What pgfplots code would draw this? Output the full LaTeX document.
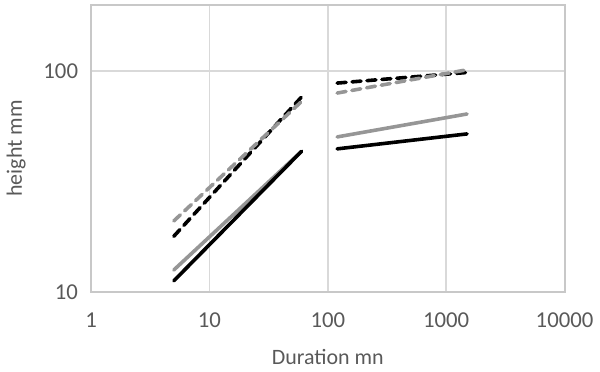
\documentclass[border=0pt]{standalone}
\usepackage{fontspec}
\setmainfont{Carlito}
\usepackage{pgfplots}
\pgfplotsset{compat=1.18}
\definecolor{txt}{HTML}{595959}
\definecolor{grd}{HTML}{D9D9D9}
\definecolor{frm}{HTML}{C8C8C8}
\definecolor{lgray}{HTML}{969696}
\begin{document}
\begin{tikzpicture}
\path (-45.65pt,-38pt) rectangle (254.35pt,146.5pt);
\begin{axis}[
    at={(0,0)}, anchor=south west,
    scale only axis,
    width=237.4pt, height=144.2pt,
    xmode=log, ymode=log,
    xmin=1, xmax=10000, ymin=10, ymax=200,
    xtick={1,10,100,1000,10000},
    xticklabels={1,10,100,1000,10000},
    ytick={10,100},
    yticklabels={10,100},
    xminorticks=false, yminorticks=false,
    major tick length=0pt, minor tick length=0pt,
    xmajorgrids, ymajorgrids,
    grid style={grd, line width=0.9pt},
    axis line style={frm, line width=1pt},
    tick label style={font=\fontsize{11.4}{13}\selectfont, text=txt},
    /pgf/number format/assume math mode=true,
    xticklabel style={yshift=-7pt},
    yticklabel style={xshift=-3pt},
    xlabel={Duration mn}, ylabel={height mm},
    label style={font=\fontsize{11}{13}\selectfont, text=txt},
    xlabel style={yshift=-4pt},
    ylabel style={yshift=2pt},
    every axis plot/.append style={line width=1.8pt, line cap=round},
]
% first period
\addplot[black, dash pattern=on 4.5pt off 3pt] coordinates {(5,17.9) (60,76.4)};
\addplot[lgray, dash pattern=on 4.5pt off 3pt] coordinates {(5,21.0) (60,72.9)};
\addplot[lgray] coordinates {(5,12.6) (60,43.4)};
\addplot[black] coordinates {(5,11.25) (60,43.4)};
% second period
\addplot[black, dash pattern=on 4.5pt off 3pt] coordinates {(120,88.3) (1500,98.6)};
\addplot[lgray, dash pattern=on 4.5pt off 3pt] coordinates {(120,79.6) (1500,101.4)};
\addplot[lgray] coordinates {(120,50.4) (1500,64.0)};
\addplot[black] coordinates {(120,44.5) (1500,52.0)};
\end{axis}
\end{tikzpicture}
\end{document}
